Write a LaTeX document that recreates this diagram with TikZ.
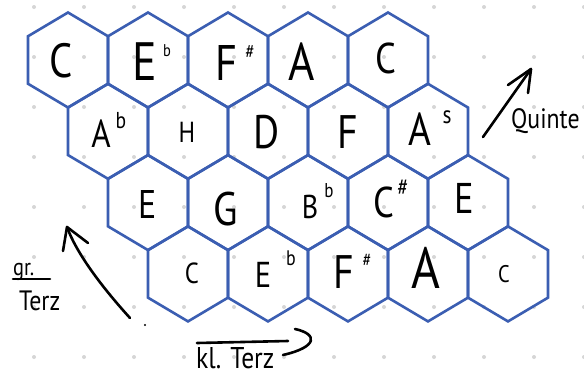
\documentclass[tikz,border=0pt]{standalone}
\usepackage{fontspec}
\setmainfont{PT Sans}[FakeStretch=0.85]
\definecolor{hexblue}{RGB}{59,94,178}
\definecolor{dotgray}{RGB}{214,214,214}
\begin{document}
\begin{tikzpicture}[x=1pt,y=-1pt,
  hex/.style={draw=hexblue,line width=2.6pt},
  L/.style={font=\fontsize{#1}{#1}\selectfont, inner sep=0pt, anchor=base},
  S/.style={font=\fontsize{#1}{#1}\selectfont, inner sep=0pt, anchor=center},
  hand/.style={line width=2.6pt, line cap=round, line join=round},
  lbl/.style={font=\fontsize{#1}{#1}\selectfont, inner sep=0pt, anchor=base west}]
\useasboundingbox (0,0) rectangle (584,378);
\fill[white] (0,0) rectangle (584,378);
% dotted grid paper
\foreach \x in {34,84,...,584}
  \foreach \y in {7,57,...,357}
    \fill[dotgray] (\x,\y) circle (2);
% hexagons
\foreach \r/\cy in {0/60,1/131.3,2/202.6,3/273.9}
  \foreach \c in {0,...,4} {
    \pgfmathsetmacro\cx{68+40*\r+80*\c}
    \draw[hex] ({\cx},{\cy-47.5}) -- ({\cx+40},{\cy-23.75}) -- ({\cx+40},{\cy+23.75})
      -- ({\cx},{\cy+47.5}) -- ({\cx-40},{\cy+23.75}) -- ({\cx-40},{\cy-23.75}) -- cycle;
  }
% row 1
\node[L=48] (r1a) at (61,77) {C};
\node[L=54] (r1b) at (145,80) {E};
\node[S=17] (r1bs) at (167,51) {b};
\node[L=50] (r1c) at (226,80) {F};
\node[S=20] (r1cs) at (250,52) {\#};
\node[L=53] (r1d) at (302,80) {A};
\node[L=43] (r1e) at (386,73) {C};
% row 2
\node[L=39] (r2a) at (101,147) {A};
\node[S=23] (r2as) at (121,121) {b};
\node[L=29] (r2b) at (187,142) {H};
\node[L=47] (r2c) at (267,148) {D};
\node[L=47] (r2d) at (348,148) {F};
\node[L=46] (r2e) at (420,145) {A};
\node[S=25] (r2es) at (447,117) {s};
% row 3
\node[L=40] (r3a) at (148,218) {E};
\node[L=47] (r3b) at (226,225) {G};
\node[L=33] (r3c) at (310,218) {B};
\node[S=20] (r3cs) at (329,191) {b};
\node[L=43] (r3d) at (384,217) {C};
\node[S=24] (r3ds) at (403,188) {\#};
\node[L=43] (r3e) at (464,213) {E};
% row 4
\node[L=29] (r4a) at (192,283) {C};
\node[L=36] (r4b) at (263,287) {E};
\node[S=21] (r4bs) at (291,258) {b};
\node[L=47] (r4c) at (344,288) {F};
\node[S=19] (r4cs) at (367,260) {\#};
\node[L=58] (r4d) at (426,288) {A};
\node[L=24] (r4e) at (504,282) {C};
% Quinte arrow
\coordinate (qs) at (483,137);
\coordinate (qt) at (531,69);
\coordinate (qh1) at (508,85);
\coordinate (qh2) at (528,93);
\draw[hand] (qs) -- (qt);
\draw[hand] (qh1) -- (qt) -- (qh2);
\node[lbl=28] (quinte) at (511,128) {Quinte};
% gr. Terz arrow
\coordinate (gs) at (130,318);
\coordinate (gt) at (67,227);
\coordinate (gh1) at (63,251);
\coordinate (gh2) at (88,243);
\draw[hand] (gs) .. controls (100,285) and (76,252) .. (gt);
\draw[hand] (gh1) -- (gt) -- (gh2);
\node[lbl=24] (gr) at (13,275) {gr.};
\coordinate (gu1) at (13,279);
\coordinate (gu2) at (50,279);
\draw[hand] (gu1) -- (gu2);
\node[lbl=28] (grterz) at (19,310) {Terz};
\fill (145,325) circle (1.2);
% kl. Terz arrow
\coordinate (ks) at (197,343);
\coordinate (ke) at (288,341);
\coordinate (kh1) at (295,329);
\coordinate (kh2) at (283,355);
\draw[hand] (ks) -- (ke);
\draw[hand] (kh1) .. controls (318,334) and (318,347) .. (kh2);
\node[lbl=30] (klterz) at (196,368) {kl. Terz};
\end{tikzpicture}
\end{document}
